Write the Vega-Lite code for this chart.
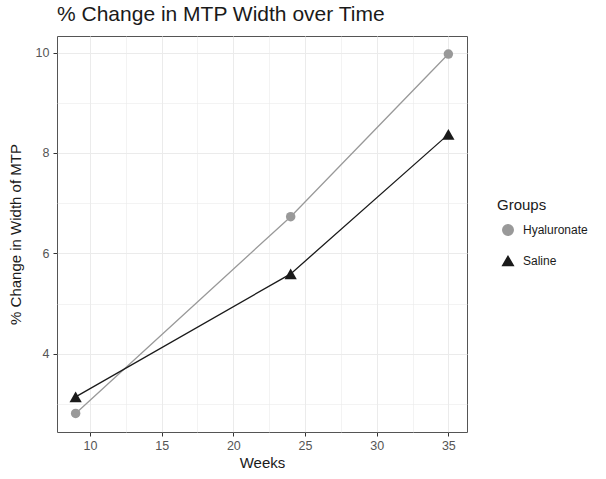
{
  "$schema": "https://vega.github.io/schema/vega-lite/v6.json",
  "width": 410,
  "height": 396,
  "autosize": "none",
  "padding": {"left": 57, "top": 36, "right": 139, "bottom": 47},
  "background": "white",
  "title": {"text": "% Change in MTP Width over Time", "anchor": "start", "frame": "group", "font": "Liberation Sans", "fontSize": 21, "fontWeight": "normal", "color": "#1a1a1a", "offset": 11},
  "data": {"values": [
    {"Weeks": 9, "Change": 2.81, "Group": "Hyaluronate"},
    {"Weeks": 24, "Change": 6.73, "Group": "Hyaluronate"},
    {"Weeks": 35, "Change": 9.97, "Group": "Hyaluronate"},
    {"Weeks": 9, "Change": 3.14, "Group": "Saline"},
    {"Weeks": 24, "Change": 5.59, "Group": "Saline"},
    {"Weeks": 35, "Change": 8.37, "Group": "Saline"}
  ]},
  "encoding": {
    "x": {"field": "Weeks", "type": "quantitative", "scale": {"domain": [7.7, 36.3], "nice": false, "zero": false},
      "axis": {"values": [10, 12.5, 15, 17.5, 20, 22.5, 25, 27.5, 30, 32.5, 35], "title": "Weeks",
        "labelExpr": "datum.value % 5 === 0 ? datum.label : ''",
        "tickOpacity": {"condition": {"test": "datum.value % 5 === 0", "value": 1}, "value": 0},
        "gridWidth": {"condition": {"test": "datum.value % 5 === 0", "value": 1}, "value": 0.6},
        "labelPadding": 3, "titlePadding": 4}},
    "y": {"field": "Change", "type": "quantitative", "scale": {"domain": [2.44, 10.33], "nice": false, "zero": false},
      "axis": {"values": [3, 4, 5, 6, 7, 8, 9, 10], "title": "% Change in Width of MTP",
        "labelExpr": "datum.value % 2 === 0 ? datum.label : ''",
        "tickOpacity": {"condition": {"test": "datum.value % 2 === 0", "value": 1}, "value": 0},
        "gridWidth": {"condition": {"test": "datum.value % 2 === 0", "value": 1}, "value": 0.6},
        "labelPadding": 4, "titlePadding": 12}},
    "color": {"field": "Group", "type": "nominal", "title": "Groups",
      "scale": {"domain": ["Hyaluronate", "Saline"], "range": ["#999999", "#1a1a1a"]},
      "legend": {"orient": "none", "legendX": 440, "legendY": 162, "padding": 0, "rowPadding": 14, "symbolSize": 110,
        "symbolOffset": 5, "labelOffset": 9, "titlePadding": 11}},
    "shape": {"field": "Group", "type": "nominal", "title": "Groups",
      "scale": {"domain": ["Hyaluronate", "Saline"], "range": ["circle", "triangle-up"]},
      "legend": {"orient": "none", "legendX": 440, "legendY": 162, "padding": 0, "rowPadding": 14, "symbolSize": 110,
        "symbolOffset": 5, "labelOffset": 9, "titlePadding": 11}}
  },
  "layer": [
    {"mark": {"type": "line", "strokeWidth": 1.3}},
    {"transform": [{"filter": "datum.Group === 'Hyaluronate'"}],
     "mark": {"type": "point", "filled": true, "opacity": 1, "size": 90}},
    {"transform": [{"filter": "datum.Group === 'Saline'"}],
     "mark": {"type": "point", "filled": true, "opacity": 1, "size": 150}}
  ],
  "config": {
    "view": {"stroke": "#555555", "strokeWidth": 1},
    "font": "Liberation Sans",
    "axis": {"domain": false, "tickColor": "#333333", "tickSize": 4, "labelColor": "#555555", "labelFontSize": 12.5,
      "labelFont": "Liberation Sans", "titleFont": "Liberation Sans", "titleFontSize": 15, "titleFontWeight": "normal",
      "titleColor": "#1a1a1a", "gridColor": "#ebebeb"},
    "legend": {"titleFont": "Liberation Sans", "titleFontSize": 15, "titleFontWeight": "normal", "titleColor": "#1a1a1a",
      "labelFont": "Liberation Sans", "labelFontSize": 12, "labelColor": "#1a1a1a"}
  }
}
